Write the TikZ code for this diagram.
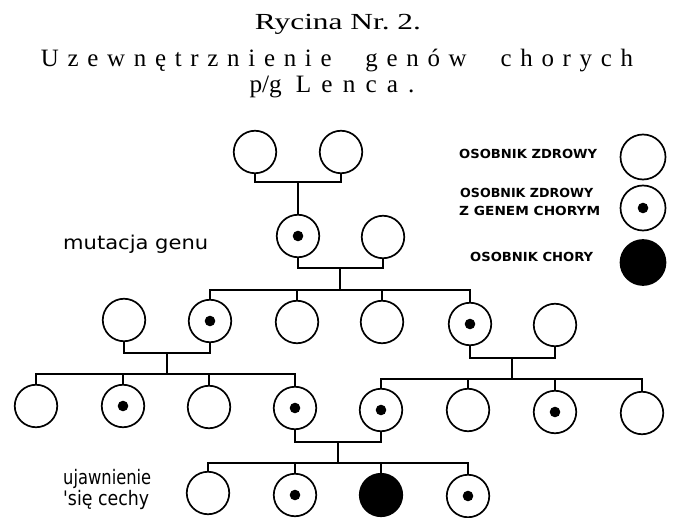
\documentclass[tikz,border=0pt]{standalone}
\usepackage{fontspec}
\usepackage{graphicx}
\setmainfont{Liberation Serif}
\newfontfamily\legfont{DejaVu Sans}
\newfontfamily\labfont{DejaVu Sans}
\usetikzlibrary{calc}
\tikzset{
  person/.style={circle, draw, line width=1.7pt, minimum size=42.5pt, inner sep=0pt},
  carrier/.style={person, path picture={\fill (path picture bounding box.center) circle (5.3pt);}},
  affected/.style={person, fill=black},
  link/.style={line width=2pt},
  legtext/.style={anchor=base west, inner sep=0pt, font=\legfont\bfseries\fontsize{12.5}{14}\selectfont},
  labtext/.style={anchor=base west, inner sep=0pt, font=\labfont\fontsize{19}{21}\selectfont},
  titletext/.style={anchor=base, inner sep=0pt}
}
\begin{document}
\begin{tikzpicture}[x=1pt, y=-1pt]
\useasboundingbox (0,0) rectangle (674,518);
\fill[white] (0,0) rectangle (674,518);

% title
\node[titletext] (t1) at (338,30) {\resizebox{166pt}{\height}{\fontsize{23}{23}\selectfont Rycina Nr.\ 2.}};
\node[titletext] (t2) at (337,67) {\resizebox{592pt}{\height}{\fontsize{25}{25}\selectfont\addfontfeature{LetterSpace=35}Uzewnętrznienie\hspace{34pt}genów\hspace{34pt}chorych}};
\node[titletext] (t3) at (332,93) {\resizebox{165pt}{\height}{\fontsize{25}{25}\selectfont p/g\hspace{14pt}{\addfontfeature{LetterSpace=40}Lenca.}}};

% row 1
\node[person] (a1) at (255,152) {};
\node[person] (a2) at (341,152) {};
% row 2
\node[carrier] (b1) at (298,236) {};
\node[person] (b2) at (383,237) {};
% row 3
\node[person] (c1) at (124,320) {};
\node[carrier] (c2) at (210,321) {};
\node[person] (c3) at (297,322) {};
\node[person] (c4) at (382,322) {};
\node[carrier] (c5) at (470,324) {};
\node[person] (c6) at (555,325) {};
% row 4
\node[person] (d1) at (36,406) {};
\node[carrier] (d2) at (123,406) {};
\node[person] (d3) at (209,407) {};
\node[carrier] (d4) at (295,408) {};
\node[carrier] (d5) at (381,410) {};
\node[person] (d6) at (468,410) {};
\node[carrier] (d7) at (555,412) {};
\node[person] (d8) at (642,413) {};
% row 5
\node[person] (e1) at (208,493) {};
\node[carrier] (e2) at (295,495) {};
\node[affected] (e3) at (381,495) {};
\node[carrier] (e4) at (468,496) {};

% couple / sibling coordinates
\coordinate (m1) at (298,182);
\coordinate (m2) at (340,268);
\coordinate (s3) at (340,290);
\coordinate (m3) at (167,353);
\coordinate (s4) at (167,374);
\coordinate (m4) at (512,358);
\coordinate (s5) at (512,379);
\coordinate (m5) at (338,442);
\coordinate (s6) at (338,463);

% connectors
\draw[link] (a1.south) |- (m1) -| (a2.south);
\draw[link] (m1) -- (b1.north);
\draw[link] (b1.south) |- (m2) -| (b2.south);
\draw[link] (m2) -- (s3);
\draw[link] (c2.north) |- (s3) -| (c5.north);
\draw[link] (c3.north) -- (c3.north |- s3);
\draw[link] (c4.north) -- (c4.north |- s3);
\draw[link] (c1.south) |- (m3) -| (c2.south);
\draw[link] (m3) -- (s4);
\draw[link] (d1.north) |- (s4) -| (d4.north);
\draw[link] (d2.north) -- (d2.north |- s4);
\draw[link] (d3.north) -- (d3.north |- s4);
\draw[link] (c5.south) |- (m4) -| (c6.south);
\draw[link] (m4) -- (s5);
\draw[link] (d5.north) |- (s5) -| (d8.north);
\draw[link] (d6.north) -- (d6.north |- s5);
\draw[link] (d7.north) -- (d7.north |- s5);
\draw[link] (d4.south) |- (m5) -| (d5.south);
\draw[link] (m5) -- (s6);
\draw[link] (e1.north) |- (s6) -| (e4.north);
\draw[link] (e2.north) -- (e2.north |- s6);
\draw[link] (e3.north) -- (e3.north |- s6);

% side labels
\node[labtext] (lab1) at (63,250) {\resizebox{145pt}{\height}{mutacja genu}};
\node[labtext, font=\labfont\fontsize{20}{22}\selectfont] (lab2) at (63,484) {\resizebox{88pt}{\height}{ujawnienie}};
\node[labtext, font=\labfont\fontsize{20}{22}\selectfont] (lab3) at (63,505) {\resizebox{86pt}{\height}{'się cechy}};

% legend
\node[person, minimum size=45pt] (k1) at (643,157) {};
\node[carrier, minimum size=45pt] (k2) at (643,208) {};
\node[affected, minimum size=45pt] (k3) at (643,262.5) {};
\node[legtext] (kt1) at (459,158.5) {\resizebox{138pt}{\height}{OSOBNIK ZDROWY}};
\node[legtext] (kt2) at (460,197.5) {\resizebox{133pt}{\height}{OSOBNIK ZDROWY}};
\node[legtext] (kt3) at (459,215.3) {\resizebox{141pt}{\height}{Z GENEM CHORYM}};
\node[legtext] (kt4) at (470,262) {\resizebox{123pt}{\height}{OSOBNIK CHORY}};
\end{tikzpicture}
\end{document}
